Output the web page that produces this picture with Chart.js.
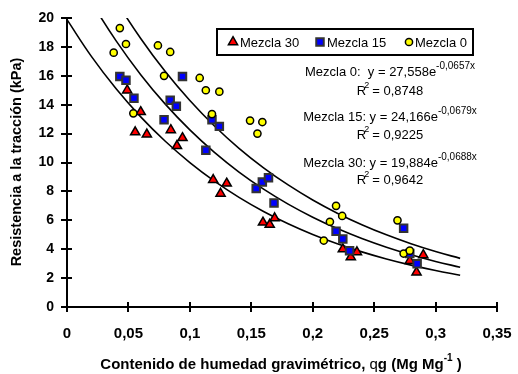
<!DOCTYPE html>
<html>
<head>
<meta charset="utf-8">
<script src="https://cdn.jsdelivr.net/npm/chart.js@4/dist/chart.umd.min.js"></script>
<style>
html,body{margin:0;padding:0;background:#fff;}
#wrap{width:518px;height:374px;}
</style>
</head>
<body>
<div id="wrap"><canvas id="c" width="518" height="374"></canvas></div>
<script>
// ---- data ----
const seriesNames = ['Mezcla 30', 'Mezcla 15', 'Mezcla 0'];

const mezcla30X = [0.049, 0.0555, 0.060, 0.065, 0.0845, 0.0895, 0.094, 0.119, 0.125, 0.130, 0.1595, 0.165, 0.169, 0.2245, 0.231, 0.236, 0.279, 0.290, 0.2845];
const mezcla30Y = [15.0, 12.1, 13.5, 11.95, 12.25, 11.15, 11.7, 8.8, 7.85, 8.55, 5.85, 5.7, 6.15, 4.0, 3.45, 3.8, 3.2, 3.6, 2.4];

const mezcla15X = [0.043, 0.048, 0.0545, 0.079, 0.084, 0.089, 0.094, 0.113, 0.118, 0.124, 0.154, 0.159, 0.164, 0.1685, 0.219, 0.2245, 0.230, 0.274, 0.279, 0.285];
const mezcla15Y = [15.95, 15.7, 14.45, 12.95, 14.3, 13.9, 15.95, 10.85, 12.95, 12.5, 8.2, 8.65, 8.95, 7.2, 5.25, 4.7, 3.9, 5.45, 3.7, 3.0];

const mezcla0X = [0.038, 0.043, 0.048, 0.054, 0.074, 0.079, 0.084, 0.108, 0.113, 0.118, 0.124, 0.149, 0.155, 0.159, 0.209, 0.214, 0.219, 0.224, 0.269, 0.274, 0.279];
const mezcla0Y = [17.6, 19.3, 18.2, 13.4, 18.1, 16.0, 17.65, 15.85, 15.0, 13.35, 14.9, 12.9, 12.0, 12.8, 4.6, 5.9, 7.0, 6.3, 6.0, 3.7, 3.9];

// trend curves
const curveX = [0, 0.02, 0.04, 0.06, 0.08, 0.10, 0.12, 0.14, 0.16, 0.18, 0.20, 0.22, 0.24, 0.26, 0.28, 0.30, 0.32];
const curve30Y = [19.884, 17.328, 15.100, 13.159, 11.468, 9.994, 8.709, 7.590, 6.614, 5.764, 5.023, 4.377, 3.815, 3.324, 2.897, 2.525, 2.200];
const curve15Y = [24.166, 21.097, 18.418, 16.080, 14.038, 12.255, 10.699, 9.341, 8.155, 7.119, 6.215, 5.426, 4.737, 4.136, 3.611, 3.152, 2.752];
const curve0Y  = [27.558, 24.165, 21.189, 18.580, 16.292, 14.286, 12.527, 10.984, 9.632, 8.446, 7.406, 6.494, 5.694, 4.993, 4.378, 3.839, 3.366];

const xTickLabels = ['0', '0,05', '0,1', '0,15', '0,2', '0,25', '0,3', '0,35'];
const yTickLabels = ['0', '2', '4', '6', '8', '10', '12', '14', '16', '18', '20'];

const equations = [
  { main: 'Mezcla 0:  y = 27,558e', sup: '-0,0657x', r2: '0,8748' },
  { main: 'Mezcla 15: y = 24,166e', sup: '-0,0679x', r2: '0,9225' },
  { main: 'Mezcla 30: y = 19,884e', sup: '-0,0688x', r2: '0,9642' }
];

const yTitle = 'Resistencia a la tracción (kPa)';
const xTitleParts = ['Contenido de humedad gravimétrico, ', 'q', 'g (Mg Mg', '-1', ' )'];

// ---- build ----
const pts = (xs, ys) => xs.map((x, i) => ({ x: x, y: ys[i] }));
const FONT = "'Liberation Sans', Arial, sans-serif";

const styles = [
  { pointStyle: 'triangle', backgroundColor: '#ff0000', borderColor: '#000000', borderWidth: 1.5, radius: 5.3 },
  { pointStyle: 'rect', backgroundColor: '#0000ff', borderColor: '#333333', borderWidth: 2, radius: 5.3 },
  { pointStyle: 'circle', backgroundColor: '#ffff00', borderColor: '#000000', borderWidth: 1.5, radius: 3.6 }
];

function scatterDs(name, data, st) {
  return {
    label: name, data: data, showLine: false,
    pointStyle: st.pointStyle, pointRadius: st.radius, pointHoverRadius: st.radius,
    pointBackgroundColor: st.backgroundColor, pointBorderColor: st.borderColor,
    pointBorderWidth: st.borderWidth, backgroundColor: st.backgroundColor, borderColor: st.borderColor
  };
}
function curveDs(name, ys) {
  return {
    label: name, data: pts(curveX, ys), showLine: true, pointRadius: 0,
    borderColor: '#000000', borderWidth: 1.6, tension: 0.4, fill: false
  };
}

const overlay = {
  id: 'overlay',
  afterDraw(chart) {
    const ctx = chart.ctx;
    const xs = chart.scales.x, ys = chart.scales.y;
    const area = chart.chartArea;
    ctx.save();
    // inner tick parts
    ctx.strokeStyle = '#000'; ctx.lineWidth = 2;
    xs.ticks.forEach((t, i) => {
      const px = Math.round(xs.getPixelForTick(i));
      ctx.beginPath(); ctx.moveTo(px, area.bottom); ctx.lineTo(px, area.bottom - 5); ctx.stroke();
    });
    ys.ticks.forEach((t, i) => {
      const py = Math.round(ys.getPixelForTick(i));
      ctx.beginPath(); ctx.moveTo(area.left, py); ctx.lineTo(area.left + 5, py); ctx.stroke();
    });

    // y title
    ctx.fillStyle = '#000';
    ctx.font = 'bold 14.5px ' + FONT;
    ctx.textAlign = 'center'; ctx.textBaseline = 'middle';
    ctx.save();
    ctx.translate(17, 162);
    ctx.rotate(-Math.PI / 2);
    ctx.fillText(yTitle, 0, 0);
    ctx.restore();

    // x title with superscript
    const fMain = 'bold 15px ' + FONT, fQ = '15px ' + FONT, fSup = 'bold 10px ' + FONT;
    const fonts = [fMain, fQ, fMain, fSup, fMain];
    let total = 0;
    const widths = xTitleParts.map((s, i) => { ctx.font = fonts[i]; const w = ctx.measureText(s).width; total += w; return w; });
    let x = 281 - total / 2;
    const baseY = 369;
    ctx.textAlign = 'left'; ctx.textBaseline = 'alphabetic';
    xTitleParts.forEach((s, i) => {
      ctx.font = fonts[i];
      ctx.fillText(s, x, i === 3 ? baseY - 8 : baseY);
      x += widths[i];
    });

    // equations
    const eqY = [[72, 91], [117, 135], [163, 180]];
    const cx = 390;
    equations.forEach((eq, k) => {
      ctx.font = '13px ' + FONT;
      const wm = ctx.measureText(eq.main).width;
      ctx.font = '10px ' + FONT;
      const wsup = ctx.measureText(eq.sup).width;
      let sx = cx - (wm + wsup) / 2;
      ctx.textAlign = 'left'; ctx.textBaseline = 'middle';
      ctx.font = '13px ' + FONT;
      ctx.fillText(eq.main, sx, eqY[k][0]);
      ctx.font = '10px ' + FONT;
      ctx.fillText(eq.sup, sx + wm, eqY[k][0] - 6);
      // R2 line
      ctx.font = '13px ' + FONT;
      const rest = ' = ' + eq.r2;
      const wR = ctx.measureText('R').width;
      ctx.font = '9px ' + FONT;
      const w2 = ctx.measureText('2').width;
      ctx.font = '13px ' + FONT;
      const wRest = ctx.measureText(rest).width;
      let rx = cx - (wR + w2 * 0.5 + wRest) / 2;
      ctx.fillText('R', rx, eqY[k][1]);
      ctx.font = '9px ' + FONT;
      ctx.fillText('2', rx + wR - 2, eqY[k][1] - 5);
      ctx.font = '13px ' + FONT;
      ctx.fillText(rest, rx + wR + w2 * 0.5, eqY[k][1]);
    });

    // legend box
    ctx.lineWidth = 2; ctx.strokeStyle = '#000'; ctx.fillStyle = '#fff';
    ctx.fillRect(217, 29, 256, 26);
    ctx.strokeRect(217, 29, 256, 26);
    const legX = [[233, 240], [320, 327], [409, 415]];
    const ly = 42;
    seriesNames.forEach((name, i) => {
      const st = styles[i];
      const opts = { pointStyle: st.pointStyle, radius: st.radius, borderWidth: st.borderWidth };
      ctx.fillStyle = st.backgroundColor; ctx.strokeStyle = st.borderColor; ctx.lineWidth = st.borderWidth;
      Chart.helpers.drawPoint(ctx, opts, legX[i][0], ly);
      ctx.fillStyle = '#000';
      ctx.font = '13px ' + FONT;
      ctx.textAlign = 'left'; ctx.textBaseline = 'middle';
      ctx.fillText(name, legX[i][1], ly + 1);
    });
    ctx.restore();
  }
};

new Chart(document.getElementById('c'), {
  type: 'scatter',
  data: {
    datasets: [
      scatterDs(seriesNames[2], pts(mezcla0X, mezcla0Y), styles[2]),
      scatterDs(seriesNames[1], pts(mezcla15X, mezcla15Y), styles[1]),
      scatterDs(seriesNames[0], pts(mezcla30X, mezcla30Y), styles[0]),
      curveDs('Tendencia Mezcla 0', curve0Y),
      curveDs('Tendencia Mezcla 15', curve15Y),
      curveDs('Tendencia Mezcla 30', curve30Y)
    ]
  },
  options: {
    responsive: false,
    devicePixelRatio: 1,
    animation: false,
    layout: { padding: { top: 18, right: 21, left: 0, bottom: 0 } },
    plugins: { legend: { display: false }, tooltip: { enabled: false } },
    scales: {
      x: {
        type: 'linear', min: 0, max: 0.35,
        afterFit: s => { s.height = 67; s.paddingLeft = 0; s.paddingRight = 0; },
        afterBuildTicks: s => { s.ticks = xTickLabels.map((l, i) => ({ value: i * 0.05 })); },
        ticks: {
          padding: 13, color: '#000', maxRotation: 0, autoSkip: false,
          font: { family: FONT, size: 15, weight: 'bold' },
          callback: (v, i) => xTickLabels[i]
        },
        grid: { drawOnChartArea: false, drawTicks: true, tickLength: 5, color: '#000', lineWidth: 2 },
        border: { display: true, color: '#000', width: 2 }
      },
      y: {
        type: 'linear', min: 0, max: 20,
        afterFit: s => { s.width = 67; s.paddingTop = 0; s.paddingBottom = 0; },
        afterBuildTicks: s => { s.ticks = yTickLabels.map((l, i) => ({ value: i * 2 })); },
        ticks: {
          padding: 7, color: '#000', autoSkip: false,
          font: { family: FONT, size: 14, weight: 'bold' },
          callback: (v, i) => yTickLabels[i]
        },
        grid: { drawOnChartArea: false, drawTicks: true, tickLength: 6, color: '#000', lineWidth: 2 },
        border: { display: true, color: '#000', width: 2 }
      }
    }
  },
  plugins: [overlay]
});
</script>
</body>
</html>
